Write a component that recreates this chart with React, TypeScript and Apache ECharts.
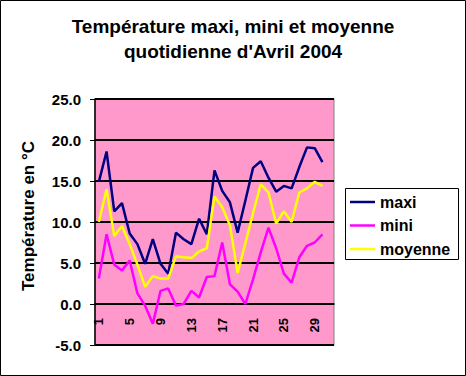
import React, { useEffect, useRef } from "react";
import * as echarts from "echarts";

const days = Array.from({ length: 31 }, (_, i) => String(i + 1));
const maxi = [14.9, 18.6, 11.3, 12.3, 8.6, 7.3, 4.9, 7.9, 4.9, 3.7, 8.7, 7.9, 7.3, 10.4, 8.5, 16.3, 13.8, 12.4, 8.7, 12.6, 16.6, 17.4, 15.4, 13.7, 14.4, 14.1, 16.7, 19.1, 19.0, 17.3];
const mini = [3.1, 8.5, 4.8, 4.1, 5.3, 1.3, -0.2, -2.4, 1.6, 1.9, -0.2, 0.0, 1.6, 0.8, 3.3, 3.4, 7.5, 2.4, 1.5, 0.0, 3.0, 6.3, 9.3, 6.8, 3.7, 2.6, 5.7, 7.1, 7.5, 8.5];
const moyenne = [10.0, 14.0, 8.3, 9.5, 7.3, 4.8, 2.1, 3.4, 3.1, 3.1, 5.8, 5.7, 5.6, 6.4, 6.8, 13.1, 11.8, 9.6, 3.8, 7.4, 11.1, 14.6, 13.6, 9.8, 11.3, 10.0, 13.6, 14.1, 14.9, 14.4];

const FONT = "Arial, 'Liberation Sans', sans-serif";
const Y_MIN = -5;
const Y_MAX = 25;
const GRID_H = 246;

export default function App() {
  const ref = useRef<HTMLDivElement>(null);
  useEffect(() => {
    if (!ref.current) return;
    const chart = echarts.init(ref.current, undefined, { renderer: "svg" });
    chart.setOption({
      animation: false,
      backgroundColor: "#ffffff",
      title: {
        text: "Température maxi, mini et moyenne\nquotidienne d'Avril 2004",
        left: "center",
        top: 14,
        padding: 0,
        textStyle: { fontFamily: FONT, fontSize: 19, fontWeight: "bold", color: "#000", lineHeight: 25 },
      },
      grid: {
        left: 95,
        top: 99,
        width: 239,
        height: GRID_H,
        show: true,
        backgroundColor: "#FF99CC",
        borderColor: "#808080",
        borderWidth: 1,
      },
      legend: {
        orient: "vertical",
        left: 350,
        top: 194,
        padding: 0,
        itemGap: 7.5,
        itemWidth: 25,
        itemHeight: 2.5,
        itemTextGap: 4,
        icon: "rect",
        textStyle: { fontFamily: FONT, fontSize: 16, fontWeight: "bold", color: "#000", lineHeight: 16 },
        data: ["maxi", "mini", "moyenne"],
      },
      xAxis: {
        type: "category",
        data: days,
        boundaryGap: true,
        position: "bottom",
        offset: -(GRID_H * (0 - Y_MIN)) / (Y_MAX - Y_MIN),
        axisLine: { onZero: false, lineStyle: { color: "#000", width: 1.5 } },
        axisTick: { interval: 0, length: 5, lineStyle: { color: "#000", width: 1 } },
        axisLabel: {
          interval: 3,
          rotate: 90,
          margin: 14,
          fontFamily: FONT,
          fontSize: 13,
          fontWeight: "bold",
          color: "#000",
        },
        splitLine: { show: false },
      },
      yAxis: {
        type: "value",
        min: Y_MIN,
        max: Y_MAX,
        interval: 5,
        axisLine: { show: true, lineStyle: { color: "#000", width: 1.5 } },
        axisTick: { show: true, length: 5, lineStyle: { color: "#000" } },
        axisLabel: {
          margin: 14,
          formatter: (v: number) => v.toFixed(1),
          fontFamily: FONT,
          fontSize: 15,
          fontWeight: "bold",
          color: "#000",
        },
        splitLine: { show: true, lineStyle: { color: "#000", width: 2 } },
      },
      graphic: [
        {
          type: "rect",
          shape: { x: 0.5, y: 0.5, width: 465, height: 375 },
          style: { fill: "none", stroke: "#000", lineWidth: 1 },
          silent: true,
          z: 100,
        },
        {
          type: "rect",
          shape: { x: 345.5, y: 188.5, width: 113, height: 71 },
          style: { fill: "#fff", stroke: "#000", lineWidth: 1 },
          silent: true,
          z: -1,
        },
        {
          type: "text",
          x: 28,
          y: 216,
          rotation: Math.PI / 2,
          style: {
            text: "Température en °C",
            fontFamily: FONT,
            fontSize: 17,
            fontWeight: "bold",
            fill: "#000",
            align: "center",
            verticalAlign: "middle",
          },
        },
      ],
      series: [
        { name: "maxi", type: "line", data: maxi, showSymbol: false, color: "#000080", lineStyle: { width: 2.5, color: "#000080" } },
        { name: "mini", type: "line", data: mini, showSymbol: false, color: "#FF00FF", lineStyle: { width: 2.5, color: "#FF00FF" } },
        { name: "moyenne", type: "line", data: moyenne, showSymbol: false, color: "#FFFF00", lineStyle: { width: 2.5, color: "#FFFF00" } },
      ],
    });
    return () => chart.dispose();
  }, []);
  return <div ref={ref} style={{ position: "fixed", left: 0, top: 0, width: 466, height: 376 }} />;
}
